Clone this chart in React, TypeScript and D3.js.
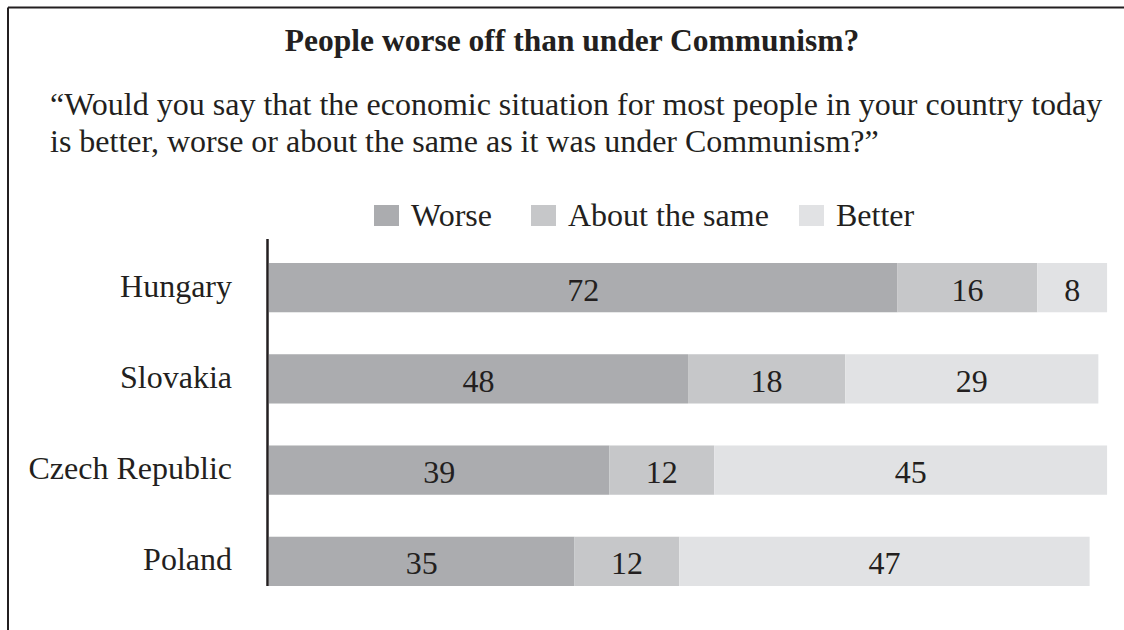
import * as d3 from 'd3';

const countries = ['Hungary', 'Slovakia', 'Czech Republic', 'Poland'];
const seriesNames = ['Worse', 'About the same', 'Better'];
const worse = [72, 48, 39, 35];
const aboutSame = [16, 18, 12, 12];
const better = [8, 29, 45, 47];

const COLORS = ['#abacaf', '#c6c7c9', '#e1e2e4'];
const INK = '#231f20';
const FONT = '"Liberation Serif", "Times New Roman", serif';

const W = 1124;
const H = 630;

export default function App() {
  const rows = countries.map((c, i) => ({
    country: c,
    Worse: worse[i],
    'About the same': aboutSame[i],
    Better: better[i],
  }));

  const stacked = d3.stack<any>().keys(seriesNames)(rows);

  const x = d3.scaleLinear().domain([0, 100]).range([269, 1142]);
  const y = d3
    .scaleBand()
    .domain(countries)
    .range([263, 586])
    .paddingInner(0.46)
    .paddingOuter(0);

  const axisX = 267.5;
  const legendX = [374, 531, 799];

  return (
    <svg
      width={W}
      height={H}
      style={{ position: 'absolute', left: 0, top: 0, background: '#fff' }}
      fontFamily={FONT}
    >
      {/* frame: top and left only */}
      <line x1={8} y1={7.5} x2={W} y2={7.5} stroke={INK} strokeWidth={2} />
      <line x1={8} y1={7.5} x2={8} y2={H} stroke={INK} strokeWidth={2} />

      <text x={572} y={51} textAnchor="middle" fontSize={31.5} fontWeight="bold" fill={INK}>
        People worse off than under Communism?
      </text>
      <text x={50} y={115} fontSize={32} fill={INK}>
        “Would you say that the economic situation for most people in your country today
      </text>
      <text x={50} y={152} fontSize={32} fill={INK}>
        is better, worse or about the same as it was under Communism?”
      </text>

      {/* legend */}
      {seriesNames.map((s, i) => (
        <g key={s}>
          <rect x={legendX[i]} y={205} width={25} height={21} fill={COLORS[i]} />
          <text x={legendX[i] + 37} y={226} fontSize={32} fill={INK}>
            {s}
          </text>
        </g>
      ))}

      {/* bars */}
      {stacked.map((layer, si) => (
        <g key={layer.key}>
          {layer.map((d, ci) => (
            <g key={countries[ci]}>
              <rect
                x={x(d[0])}
                y={y(countries[ci])}
                width={x(d[1]) - x(d[0])}
                height={y.bandwidth()}
                fill={COLORS[si]}
              />
              <text
                x={(x(d[0]) + x(d[1])) / 2}
                y={(y(countries[ci]) as number) + y.bandwidth() / 2 + 13}
                textAnchor="middle"
                fontSize={32}
                fill={INK}
              >
                {d[1] - d[0]}
              </text>
            </g>
          ))}
        </g>
      ))}

      {/* category labels */}
      {countries.map((c) => (
        <text
          key={c}
          x={232}
          y={(y(c) as number) + y.bandwidth() / 2 + 9}
          textAnchor="end"
          fontSize={32}
          fill={INK}
        >
          {c}
        </text>
      ))}

      <line x1={axisX} y1={239} x2={axisX} y2={586} stroke={INK} strokeWidth={2.5} />
    </svg>
  );
}
